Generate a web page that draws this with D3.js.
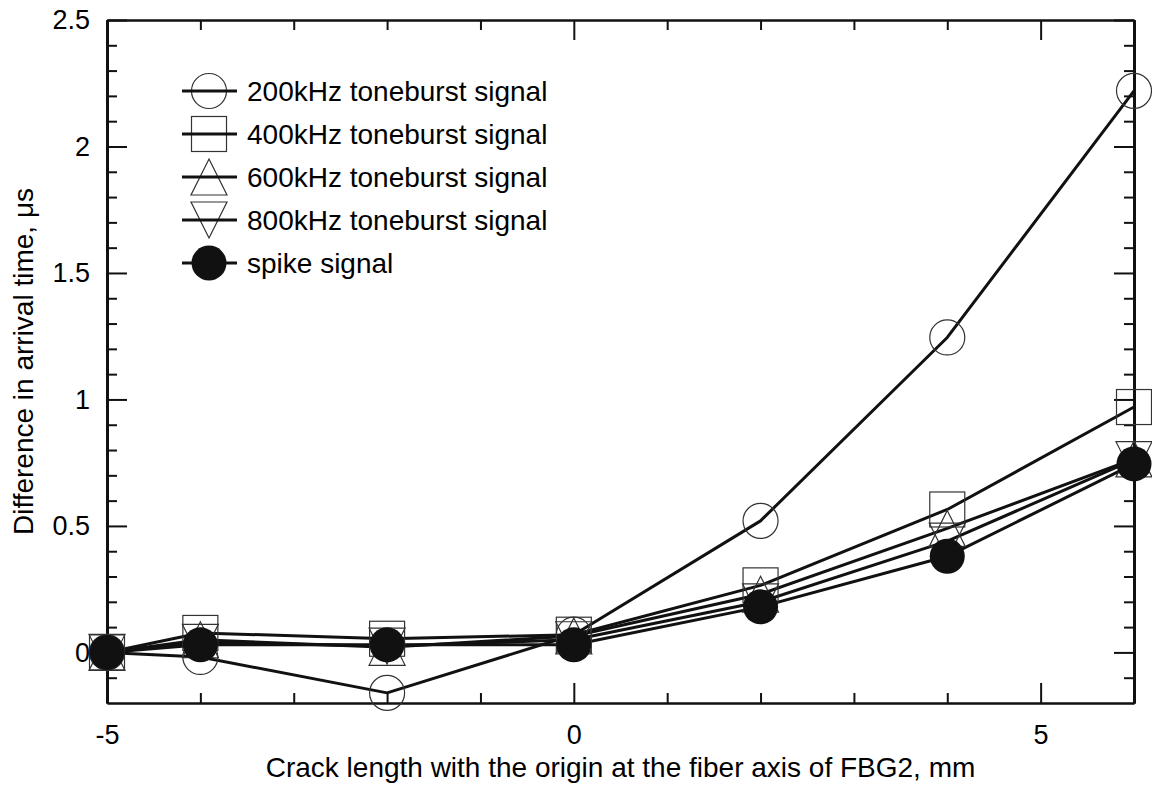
<!DOCTYPE html>
<html>
<head>
<meta charset="utf-8">
<script src="https://cdn.jsdelivr.net/npm/d3@7"></script>
<style>
  html, body { margin: 0; padding: 0; background: #fff; }
  svg { display: block; font-family: "Liberation Sans", Arial, sans-serif; }
</style>
</head>
<body>
<svg id="chart" width="1152" height="787"></svg>
<script>
// ---- Data ----
const crackLength = [-5, -4, -2, 0, 2, 4, 6];
const s200 = [0, -0.018, -0.16, 0.07, 0.52, 1.245, 2.22];
const s400 = [0, 0.077, 0.054, 0.07, 0.265, 0.565, 0.97];
const s600 = [0, 0.05, 0.02, 0.065, 0.23, 0.49, 0.765];
const s800 = [0, 0.04, 0.025, 0.05, 0.20, 0.44, 0.762];
const sSpike = [0, 0.03, 0.03, 0.03, 0.18, 0.38, 0.745];
const seriesNames = ["200kHz toneburst signal", "400kHz toneburst signal", "600kHz toneburst signal", "800kHz toneburst signal", "spike signal"];
const seriesSymbols = ["circle", "square", "triangleUp", "triangleDown", "filledCircle"];
const xMajorTicks = [-5, 0, 5];
const xMinorTicks = [-4, -3, -2, -1, 1, 2, 3, 4, 6];
const yMajorTicks = [0, 0.5, 1, 1.5, 2, 2.5];
const yMinorTicks = [-0.1, 0.1, 0.2, 0.3, 0.4, 0.6, 0.7, 0.8, 0.9, 1.1, 1.2, 1.3, 1.4, 1.6, 1.7, 1.8, 1.9, 2.1, 2.2, 2.3, 2.4];
const xTitle = "Crack length with the origin at the fiber axis of FBG2, mm";
const yTitle = "Difference in arrival time, \u03bcs";

const allSeries = [s200, s400, s600, s800, sSpike];

// ---- Layout ----
const W = 1152, H = 787;
const m = { left: 107, right: 18, top: 20, bottom: 84 };
const svg = d3.select("#chart");

const x = d3.scaleLinear().domain([-5, 6]).range([m.left, W - m.right]);
const y = d3.scaleLinear().domain([-0.2, 2.5]).range([H - m.bottom, m.top]);

const FS = 27, FT = 28;
const ink = "#111";

function styleAxis(g, domainWidth) {
  g.select(".domain").attr("stroke", ink).attr("stroke-width", domainWidth);
  g.selectAll(".tick line").attr("stroke", ink).attr("stroke-width", 2);
  g.selectAll(".tick text").attr("fill", "#000").style("font-size", FS + "px")
    .style("font-family", "'Liberation Sans', Arial, sans-serif");
}

const fmt = d => String(d);
const bottomY = H - m.bottom, rightX = W - m.right;

// bottom
svg.append("g").attr("transform", `translate(0,${bottomY})`)
  .call(d3.axisBottom(x).tickValues(xMinorTicks).tickSize(-10).tickSizeOuter(0).tickFormat(""))
  .call(g => styleAxis(g, 2));
svg.append("g").attr("transform", `translate(0,${bottomY})`)
  .call(d3.axisBottom(x).tickValues(xMajorTicks).tickSize(-20).tickSizeOuter(0).tickPadding(22).tickFormat(fmt))
  .call(g => styleAxis(g, 2));
// top
svg.append("g").attr("transform", `translate(0,${m.top})`)
  .call(d3.axisTop(x).tickValues(xMinorTicks).tickSize(-10).tickSizeOuter(0).tickFormat(""))
  .call(g => styleAxis(g, 2));
svg.append("g").attr("transform", `translate(0,${m.top})`)
  .call(d3.axisTop(x).tickValues(xMajorTicks).tickSize(-20).tickSizeOuter(0).tickFormat(""))
  .call(g => styleAxis(g, 2));
// left
svg.append("g").attr("transform", `translate(${m.left},0)`)
  .call(d3.axisLeft(y).tickValues(yMinorTicks).tickSize(-10).tickSizeOuter(0).tickFormat(""))
  .call(g => styleAxis(g, 3));
svg.append("g").attr("transform", `translate(${m.left},0)`)
  .call(d3.axisLeft(y).tickValues(yMajorTicks).tickSize(-20).tickSizeOuter(0).tickPadding(17).tickFormat(fmt))
  .call(g => styleAxis(g, 3));
// right
svg.append("g").attr("transform", `translate(${rightX},0)`)
  .call(d3.axisRight(y).tickValues(yMinorTicks).tickSize(-10).tickSizeOuter(0).tickFormat(""))
  .call(g => styleAxis(g, 3));
svg.append("g").attr("transform", `translate(${rightX},0)`)
  .call(d3.axisRight(y).tickValues(yMajorTicks).tickSize(-20).tickSizeOuter(0).tickFormat(""))
  .call(g => styleAxis(g, 3));

// axis titles
svg.append("text").attr("x", (m.left + rightX) / 2).attr("y", 777).attr("text-anchor", "middle")
  .style("font-size", FT + "px").attr("fill", "#000").text(xTitle);
svg.append("text").attr("transform", `translate(33,${(m.top + bottomY) / 2}) rotate(-90)`).attr("text-anchor", "middle")
  .style("font-size", FT + "px").attr("fill", "#000").text(yTitle);

// ---- Symbols ----
const R = 17.5;
function drawSymbol(g, type, cx, cy) {
  const markStroke = "#333";
  if (type === "circle") {
    g.append("circle").attr("cx", cx).attr("cy", cy).attr("r", R)
      .attr("fill", "none").attr("stroke", markStroke).attr("stroke-width", 1.2);
  } else if (type === "square") {
    g.append("rect").attr("x", cx - R).attr("y", cy - R).attr("width", 2 * R).attr("height", 2 * R)
      .attr("fill", "none").attr("stroke", markStroke).attr("stroke-width", 1.2);
  } else if (type === "triangleUp") {
    g.append("path").attr("d", `M${cx},${cy - 18}L${cx + 18},${cy + 18}L${cx - 18},${cy + 18}Z`)
      .attr("fill", "none").attr("stroke", markStroke).attr("stroke-width", 1.2);
  } else if (type === "triangleDown") {
    g.append("path").attr("d", `M${cx},${cy + 18}L${cx + 18},${cy - 18}L${cx - 18},${cy - 18}Z`)
      .attr("fill", "none").attr("stroke", markStroke).attr("stroke-width", 1.2);
  } else if (type === "filledCircle") {
    g.append("circle").attr("cx", cx).attr("cy", cy).attr("r", R).attr("fill", ink).attr("stroke", "none");
  }
}

// ---- Lines ----
const line = d3.line().x((d, i) => x(crackLength[i])).y(d => y(d));
const linesG = svg.append("g");
allSeries.forEach(s => {
  linesG.append("path").attr("d", line(s)).attr("fill", "none")
    .attr("stroke", ink).attr("stroke-width", 3).attr("stroke-linejoin", "round");
});

// ---- Markers ----
const marksG = svg.append("g");
allSeries.forEach((s, si) => {
  s.forEach((v, i) => drawSymbol(marksG, seriesSymbols[si], x(crackLength[i]), y(v)));
});

// ---- Legend ----
const legendG = svg.append("g");
const legX1 = 182, legX2 = 237, legSym = 209, legText = 247, legY0 = 91, legDy = 43;
seriesNames.forEach((name, i) => {
  const cy = legY0 + i * legDy;
  drawSymbol(legendG, seriesSymbols[i], legSym, cy);
  legendG.append("line").attr("x1", legX1).attr("x2", legX2).attr("y1", cy).attr("y2", cy)
    .attr("stroke", ink).attr("stroke-width", 3);
  legendG.append("text").attr("x", legText).attr("y", cy).attr("dy", "0.35em")
    .style("font-size", FT + "px").attr("fill", "#000").text(name);
});
</script>
</body>
</html>
